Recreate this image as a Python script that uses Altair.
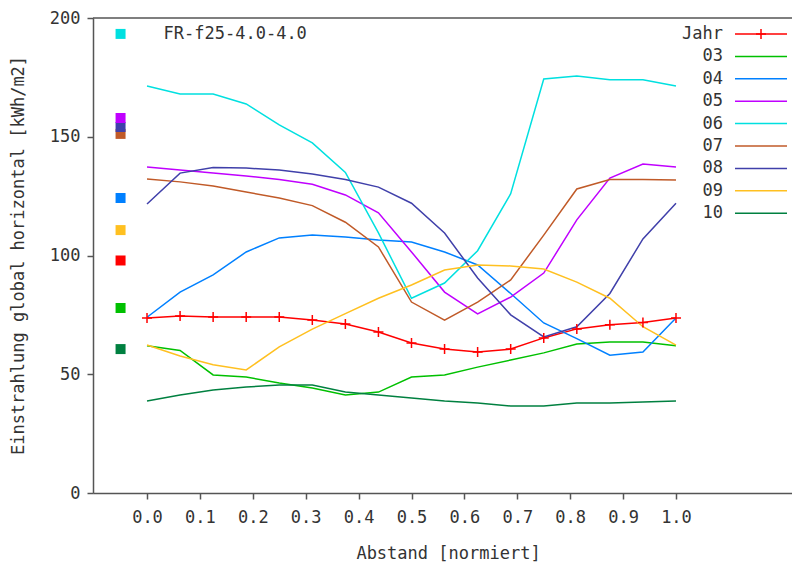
import altair as alt
import pandas as pd

# ---- data ----
x_pos = [0.0, 0.0625, 0.125, 0.1875, 0.25, 0.3125, 0.375, 0.4375, 0.5,
         0.5625, 0.625, 0.6875, 0.75, 0.8125, 0.875, 0.9375, 1.0]

series_names = ["Jahr", "03", "04", "05", "06", "07", "08", "09", "10"]
series_colors = ["#ff0000", "#00c000", "#0080ff", "#c000ff", "#00e0e0",
                 "#c05a28", "#4040aa", "#ffc020", "#008040"]

jahr = [73.7, 74.5, 74.1, 74.1, 74.1, 72.8, 71.2, 67.8, 63.2, 60.6, 59.4, 60.6, 65.3, 69.1, 70.8, 71.8, 73.7]
m03 = [62.0, 60.0, 49.7, 48.8, 46.3, 44.2, 41.3, 42.5, 48.8, 49.7, 53.0, 56.0, 59.0, 62.7, 63.6, 63.6, 62.0]
m04 = [74.0, 84.6, 91.8, 101.5, 107.4, 108.6, 107.8, 106.5, 105.7, 101.5, 96.0, 84.0, 71.6, 65.0, 58.0, 59.4, 73.7]
m05 = [137.3, 136.0, 134.7, 133.5, 132.0, 130.0, 125.5, 118.0, 101.5, 84.6, 75.4, 82.5, 92.6, 115.0, 132.6, 138.5, 137.3]
m06 = [171.4, 168.0, 168.0, 163.8, 155.0, 147.4, 135.0, 109.5, 82.0, 88.4, 102.0, 126.0, 174.3, 175.6, 174.0, 174.0, 171.4]
m07 = [132.2, 131.0, 129.3, 126.7, 124.2, 121.0, 114.0, 103.6, 80.4, 72.8, 80.4, 89.7, 108.6, 128.0, 132.0, 132.0, 131.8]
m08 = [121.7, 134.7, 137.0, 136.8, 136.0, 134.3, 132.0, 128.8, 122.0, 109.5, 90.5, 75.0, 65.7, 70.0, 84.0, 107.0, 122.0]
m09 = [62.3, 57.7, 54.0, 51.8, 61.5, 69.0, 75.5, 82.0, 87.6, 93.9, 96.0, 95.6, 94.3, 88.8, 82.0, 70.0, 62.3]
m10 = [38.7, 41.3, 43.4, 44.6, 45.5, 45.5, 42.5, 41.3, 40.0, 38.7, 37.9, 36.6, 36.6, 37.9, 37.9, 38.3, 38.7]

# squares at the left side
sq_series = ["06", "07", "08", "05", "04", "09", "Jahr", "03", "10"]
sq_values = [193.3, 151.2, 154.1, 157.9, 124.2, 110.7, 97.9, 77.9, 60.6]
sq_x = [-0.05] * len(sq_series)

key_label = ["FR-f25-4.0-4.0"]
key_x = [-0.05]
key_y = [193.3]

x_ticks = [0.0, 0.1, 0.2, 0.3, 0.4, 0.5, 0.6, 0.7, 0.8, 0.9, 1.0]
y_ticks = [0, 50, 100, 150, 200]

# ---- build tables ----
all_vals = [jahr, m03, m04, m05, m06, m07, m08, m09, m10]
rows = []
for name, vals in zip(series_names, all_vals):
    for xx, v in zip(x_pos, vals):
        rows.append({"series": name, "x": xx, "y": v})
df = pd.DataFrame(rows)
df_jahr = df[df["series"] == "Jahr"]
df_sq = pd.DataFrame({"series": sq_series, "x": sq_x, "y": sq_values})
df_key = pd.DataFrame({"label": key_label, "x": key_x, "y": key_y})
df_leg = pd.DataFrame({"series": series_names})

FONT = "DejaVu Sans Mono"
FS = 17
TXT = "#333333"

W, H = 699, 475
xscale = alt.Scale(domain=[-0.1021, 1.2193], nice=False, zero=False)
yscale = alt.Scale(domain=[0, 200], nice=False)
cscale = alt.Scale(domain=series_names, range=series_colors)
cross_shape = "M-1,0H1M0,-1V1"

X = alt.X("x:Q", scale=xscale,
          axis=alt.Axis(values=x_ticks, format=".1f", title="Abstand [normiert]",
                        grid=False, tickSize=6, labelPadding=10,
                        titleX=355, titleY=60, titleBaseline="middle", titleAlign="center"))
Y = alt.Y("y:Q", scale=yscale,
          axis=alt.Axis(values=y_ticks, title="Einstrahlung global horizontal [kWh/m2]",
                        grid=False, tickSize=6, labelPadding=7,
                        titleX=-75, titleY=237, titleBaseline="middle", titleAlign="center"))

lines = alt.Chart(df).mark_line(strokeWidth=1.5).encode(
    x=X, y=Y,
    color=alt.Color("series:N", scale=cscale, sort=series_names, legend=None),
    order=alt.Order("x:Q"),
)

crosses = alt.Chart(df_jahr).mark_point(
    shape=cross_shape, size=100, filled=False, strokeWidth=1.5, color="#ff0000", opacity=1
).encode(x="x:Q", y="y:Q")

squares = alt.Chart(df_sq).mark_point(shape="square", size=100, filled=True, opacity=1).encode(
    x="x:Q", y="y:Q",
    color=alt.Color("series:N", scale=cscale, legend=None),
)

key_text = alt.Chart(df_key).mark_text(
    align="left", baseline="middle", dx=43, font=FONT, fontSize=FS, color=TXT
).encode(x="x:Q", y="y:Q", text="label:N")

top_border = alt.Chart(df_key).mark_rule(color="#555555", strokeWidth=1.5).encode(
    y=alt.datum(200), x=alt.value(0), x2=alt.value(W)
)

main = alt.layer(top_border, lines, crosses, squares, key_text)

# ---- key (gnuplot style: label, then line sample) ----
LY = alt.Y("series:N", sort=series_names, axis=None,
           scale=alt.Scale(type="point", domain=series_names, range=[16, 195.2], padding=0))

leg_text = alt.Chart(df_leg).mark_text(
    align="right", baseline="middle", font=FONT, fontSize=FS, color=TXT
).encode(y=LY, x=alt.value(630), text="series:N")

leg_line = alt.Chart(df_leg).mark_rule(strokeWidth=1.5).encode(
    y=LY, x=alt.value(642), x2=alt.value(694),
    color=alt.Color("series:N", scale=cscale, legend=None),
)

leg_cross = alt.Chart(df_leg).transform_filter(alt.datum.series == "Jahr").mark_point(
    shape=cross_shape, size=100, filled=False, strokeWidth=1.5, color="#ff0000", opacity=1
).encode(y=LY, x=alt.value(668))

key = alt.layer(leg_line, leg_cross, leg_text)

chart = alt.layer(main, key).resolve_scale(y="independent").properties(
    width=W, height=H,
    autosize=alt.AutoSizeParams(type="none"),
    padding={"left": 85, "top": 10, "right": 0, "bottom": 72},
).configure_view(stroke=None).configure_axis(
    labelFont=FONT, labelFontSize=FS, labelColor=TXT,
    titleFont=FONT, titleFontSize=FS, titleColor=TXT, titleFontWeight="normal",
    domainColor="#555555", domainWidth=1.5, tickColor="#555555", tickWidth=1.5,
)

chart.save("out.html", embed_options={"renderer": "svg", "actions": False})
